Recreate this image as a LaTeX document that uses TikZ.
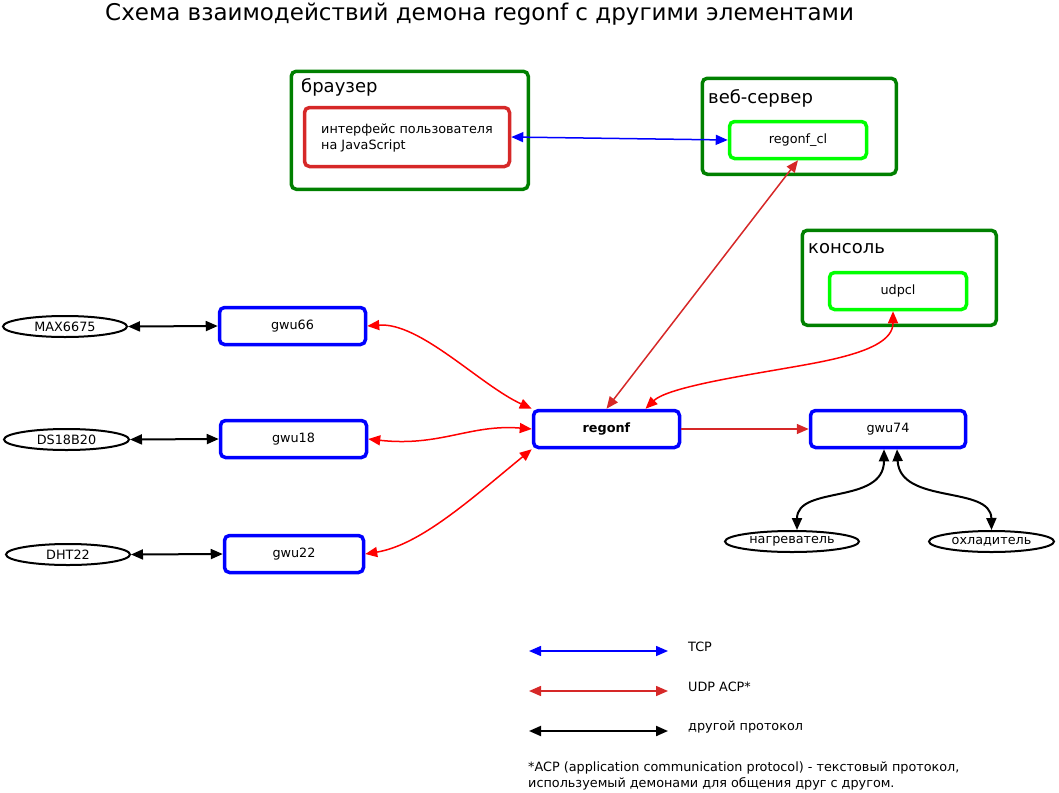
\documentclass[tikz,border=0pt]{standalone}
\usepackage{fontspec}
\setmainfont{DejaVu Sans}
\usetikzlibrary{arrows.meta,shapes.geometric}
\definecolor{grpgreen}{RGB}{0,128,0}
\definecolor{limegreen}{RGB}{0,255,0}
\definecolor{acpred}{RGB}{214,40,40}
\definecolor{brred}{RGB}{255,0,0}
\begin{document}
\begin{tikzpicture}[x=1pt,y=-1pt,>={Triangle[length=12pt,width=10pt]},
  every node/.style={font=\fontsize{12.8}{15.5}\selectfont,inner sep=0pt},
  grp/.style={draw=grpgreen,line width=3.5pt,rounded corners=5pt,anchor=north west},
  grplbl/.style={anchor=base west,font=\fontsize{18}{20}\selectfont},
  client/.style={draw=limegreen,line width=3.5pt,rounded corners=5pt,minimum width=137,minimum height=37},
  daemon/.style={draw=blue,line width=3.5pt,rounded corners=5pt,minimum width=146,minimum height=37},
  sensor/.style={ellipse,draw,line width=2pt,minimum width=124,minimum height=21},
  tcp/.style={blue,line width=1.5pt,<->},
  acp/.style={acpred,line width=1.5pt,<->},
  acpb/.style={brred,line width=1.5pt,<->},
  other/.style={black,line width=2pt,<->}]
\useasboundingbox (0,0) rectangle (1059,792);
\node[anchor=base west,font=\fontsize{23}{26}\selectfont] (title) at (105,21) {Схема взаимодействий демона regonf с другими элементами};

\node[grp,minimum width=237,minimum height=118] (browser) at (289.5,69.5) {};
\node[grplbl] (browserlbl) at (301,92) {браузер};
\node[draw=acpred,line width=3.5pt,rounded corners=5pt,minimum width=205,minimum height=59] (iface) at (407,137) {};
\node[anchor=west,align=left] (ifacetxt) at (321,138) {интерфейс пользователя\\на JavaScript};

\node[grp,minimum width=194,minimum height=96] (websrv) at (700.5,76.5) {};
\node[grplbl] (websrvlbl) at (708,103) {веб-сервер};
\node[client] (regonfcl) at (798,140) {regonf\_cl};

\node[grp,minimum width=194,minimum height=95] (console) at (800.5,228.5) {};
\node[grplbl] (consolelbl) at (808,253) {консоль};
\node[client] (udpcl) at (898,291) {udpcl};

\node[daemon] (gwu66) at (292.5,326) {gwu66};
\node[daemon] (gwu18) at (293.5,439) {gwu18};
\node[daemon,minimum width=139] (gwu22) at (294,554) {gwu22};
\node[daemon] (regonf) at (606.5,429) {\textbf{regonf}};
\node[daemon,minimum width=155] (gwu74) at (888,429) {gwu74};

\node[sensor] (max) at (65,326.5) {MAX6675};
\node[sensor,minimum width=125] (ds) at (66.5,439.5) {DS18B20};
\node[sensor] (dht) at (68,554.5) {DHT22};
\node[sensor,minimum width=134] (heater) at (792,541.5) {нагреватель};
\node[sensor,minimum width=125] (cooler) at (991.5,541.5) {охладитель};

\draw[tcp] (iface.east) -- (regonfcl.west);
\draw[acp] (regonf.north) -- (regonfcl.south);
\draw[acpb] ([xshift=39pt]regonf.north) .. controls (670,385) and (770,372) .. (820,362) .. controls (870,352) and (893,340) .. ([xshift=-5pt]udpcl.south);
\draw[acpb] (gwu66.east) .. controls (420,322) and (480,385) .. (regonf.north west);
\draw[acpb] (gwu18.east) .. controls (440,447) and (470,424) .. (regonf.west);
\draw[acpb] (gwu22.east) .. controls (420,545) and (470,500) .. (regonf.south west);
\draw[acp,-{>}] (regonf.east) -- (gwu74.west);

\draw[other] (max.east) -- (gwu66.west);
\draw[other] (ds.east) -- (gwu18.west);
\draw[other] (dht.east) -- (gwu22.west);
\draw[other] ([xshift=-4pt]gwu74.south) .. controls (884,505) and (797,485) .. ([xshift=5pt]heater.north);
\draw[other] ([xshift=9pt]gwu74.south) .. controls (900,505) and (991,485) .. (cooler.north);

\coordinate (l1a) at (529,651); \coordinate (l1b) at (668,651);
\coordinate (l2a) at (529,691); \coordinate (l2b) at (668,691);
\coordinate (l3a) at (529,731); \coordinate (l3b) at (668,731);
\draw[tcp] (l1a) -- (l1b);
\draw[acp] (l2a) -- (l2b);
\draw[other] (l3a) -- (l3b);
\node[anchor=west] (tcplbl) at (688,647) {TCP};
\node[anchor=west] (acplbl) at (688,687) {UDP ACP*};
\node[anchor=west] (otherlbl) at (688,727) {другой протокол};
\node[anchor=north west,align=left] (note) at (528,762) {*ACP (application communication protocol) - текстовый протокол,\\используемый демонами для общения друг с другом.};
\end{tikzpicture}
\end{document}
